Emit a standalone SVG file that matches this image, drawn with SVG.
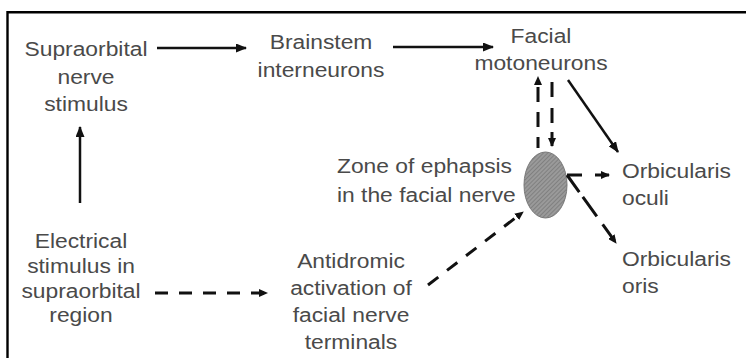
<svg xmlns="http://www.w3.org/2000/svg" width="746" height="358" viewBox="0 0 746 358">
<style>
  text { font-family: "Liberation Sans", Arial, sans-serif; font-size: 19.5px; fill: #4a4a4a; }
  .solid { stroke: #111; stroke-width: 2.5; fill: none; }
  .dash { stroke: #111; stroke-width: 3; fill: none; stroke-dasharray: 13 11; }
  .frame { stroke: #000; stroke-width: 2.4; fill: none; }
</style>
<defs>
  <marker id="ah" markerUnits="userSpaceOnUse" markerWidth="11" markerHeight="9" refX="10" refY="4.5" orient="auto">
    <path d="M0,0 L11,4.5 L0,9 z" fill="#111"/>
  </marker>
  <marker id="ahs" markerUnits="userSpaceOnUse" markerWidth="9" markerHeight="8" refX="8" refY="4" orient="auto">
    <path d="M0,0 L9,4 L0,8 z" fill="#111"/>
  </marker>
  <pattern id="hatch" patternUnits="userSpaceOnUse" width="3" height="3" patternTransform="rotate(45)">
    <rect width="3" height="3" fill="#9a9a9a"/>
    <line x1="0" y1="0" x2="0" y2="3" stroke="#6e6e6e" stroke-width="1.2"/>
  </pattern>
</defs>
<rect width="746" height="358" fill="#fff"/>
<path class="frame" d="M7.5,358 L7.5,12.2 L746,12.2"/>

<g id="supraorbital-nerve" transform="translate(86,0) scale(1.17,1)">
  <text x="0" y="56" text-anchor="middle">Supraorbital</text>
  <text x="0" y="84" text-anchor="middle">nerve</text>
  <text x="0" y="111" text-anchor="middle">stimulus</text>
</g>
<g id="brainstem" transform="translate(321,0) scale(1.17,1)">
  <text x="0" y="49" text-anchor="middle">Brainstem</text>
  <text x="0" y="77" text-anchor="middle">interneurons</text>
</g>
<g id="facial-motoneurons" transform="translate(541,0) scale(1.17,1)">
  <text x="0" y="43" text-anchor="middle">Facial</text>
  <text x="0" y="70" text-anchor="middle">motoneurons</text>
</g>
<g id="electrical" transform="translate(81,0) scale(1.17,1)">
  <text x="0" y="248" text-anchor="middle">Electrical</text>
  <text x="0" y="273" text-anchor="middle">stimulus in</text>
  <text x="0" y="298" text-anchor="middle">supraorbital</text>
  <text x="0" y="322" text-anchor="middle">region</text>
</g>
<g id="antidromic" transform="translate(351,0) scale(1.17,1)">
  <text x="0" y="268" text-anchor="middle">Antidromic</text>
  <text x="0" y="295" text-anchor="middle">activation of</text>
  <text x="0" y="322" text-anchor="middle">facial nerve</text>
  <text x="0" y="349" text-anchor="middle">terminals</text>
</g>
<g id="zone-label" transform="translate(337,0) scale(1.17,1)">
  <text x="0" y="173">Zone of ephapsis</text>
  <text x="0" y="202">in the facial nerve</text>
</g>
<g id="zone">
  <ellipse cx="545.5" cy="185" rx="21.5" ry="33" fill="url(#hatch)" stroke="#777" stroke-width="1"/>
</g>
<g id="orbicularis-oculi" transform="translate(622,0) scale(1.17,1)">
  <text x="0" y="178">Orbicularis</text>
  <text x="0" y="205">oculi</text>
</g>
<g id="orbicularis-oris" transform="translate(622,0) scale(1.17,1)">
  <text x="0" y="266">Orbicularis</text>
  <text x="0" y="293">oris</text>
</g>

<g id="connectors">
  <line class="solid" x1="157" y1="48" x2="246" y2="48" marker-end="url(#ah)"/>
  <line class="solid" x1="393" y1="47" x2="493" y2="47" marker-end="url(#ah)"/>
  <line class="solid" x1="80" y1="203" x2="80" y2="127" marker-end="url(#ah)"/>
  <line class="solid" x1="568" y1="80" x2="618" y2="152" marker-end="url(#ah)"/>
  <line class="dash" x1="155" y1="293" x2="267" y2="293" marker-end="url(#ahs)"/>
  <line class="dash" x1="428" y1="285" x2="523" y2="212" marker-end="url(#ahs)"/>
  <line class="dash" style="stroke-dasharray:11 10 15 10 15 10 15" x1="538" y1="148" x2="538" y2="77" marker-end="url(#ahs)"/>
  <line class="dash" style="stroke-dasharray:15 11 15 9 15" x1="552" y1="82" x2="552" y2="146" marker-end="url(#ahs)"/>
  <line class="dash" style="stroke-dasharray:15 13 15" x1="567" y1="175" x2="609" y2="175" marker-end="url(#ahs)"/>
  <line class="dash" style="stroke-dasharray:21 6 24 10 20" x1="567" y1="175" x2="616" y2="243" marker-end="url(#ahs)"/>
</g>
</svg>
